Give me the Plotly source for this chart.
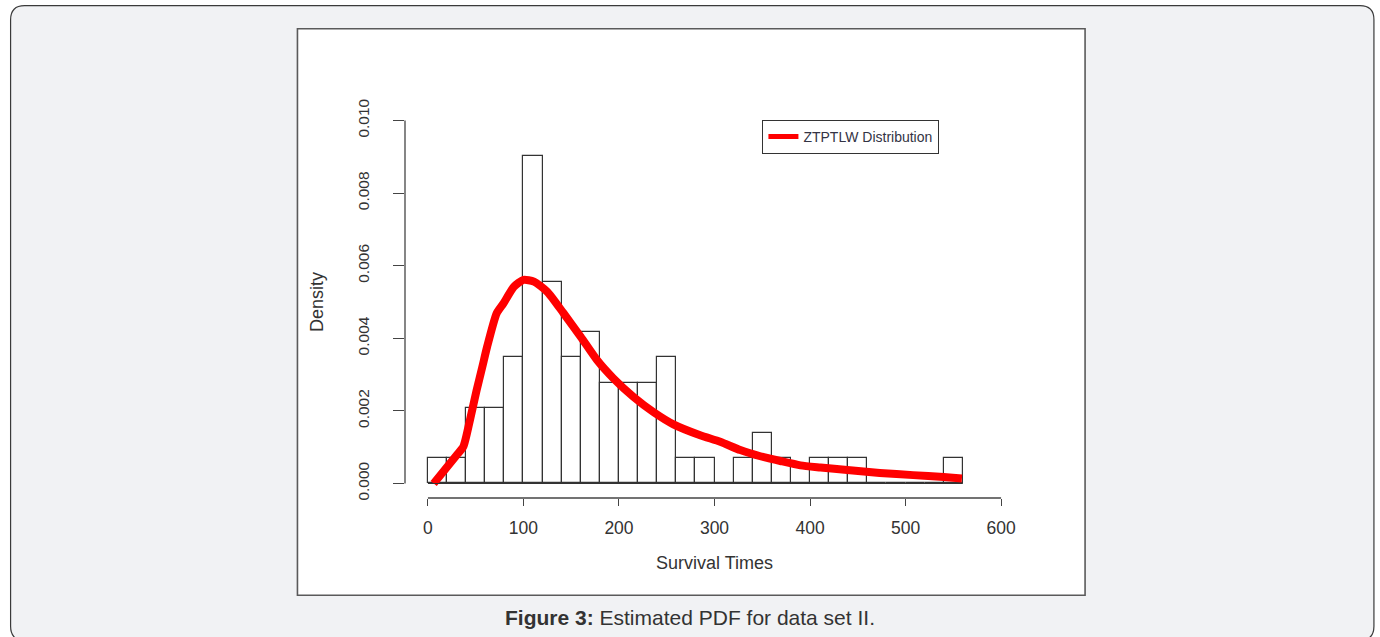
import plotly.graph_objects as go

# ---------------- data ----------------
n_obs = 72
bin_width = 20
bin_left = [0, 20, 40, 60, 80, 100, 120, 140, 160, 180, 200, 220, 240, 260,
            280, 300, 320, 340, 360, 380, 400, 420, 440, 460, 480, 500, 520, 540]
bin_counts = [1, 1, 3, 3, 5, 13, 8, 5, 6, 4, 4, 4, 5, 1,
              1, 0, 1, 2, 1, 0, 1, 1, 1, 0, 0, 0, 0, 1]

curve_x = [6, 30, 37, 44, 51, 57, 62, 72, 79, 90, 100, 111, 125, 142, 160,
           177, 194, 215, 236, 257, 285, 306, 327, 348, 369, 390, 411, 439,
           473, 508, 540, 559]
curve_y = [0.0000, 0.00078, 0.00101, 0.00175, 0.00257, 0.00322, 0.00377,
           0.00469, 0.00496, 0.00542, 0.00561, 0.00556, 0.00528, 0.00469,
           0.00404, 0.00340, 0.00290, 0.00239, 0.00197, 0.00163, 0.00133,
           0.00115, 0.00092, 0.00075, 0.00062, 0.00050, 0.00044, 0.00037,
           0.00029, 0.00023, 0.00018, 0.00014]

x_ticks = [0, 100, 200, 300, 400, 500, 600]
y_ticks = [0.000, 0.002, 0.004, 0.006, 0.008, 0.010]
x_title = "Survival Times"
y_title = "Density"
legend_label = "ZTPTLW Distribution"
caption = "<b>Figure 3:</b> Estimated PDF for data set II."

# ---------------- layout geometry (pixels) ----------------
W_PAGE, H_PAGE = 1380, 637
L, R_ = 404.6, 1023.9       # plot area left/right
T, B = 106.2, 497.8          # plot area top/bottom
PW, PH = R_ - L, B - T


def px(x):
    return (x - L) / PW


def py(y):
    return 1 - (y - T) / PH


density = [c / (n_obs * bin_width) for c in bin_counts]
bin_mid = [b + bin_width / 2 for b in bin_left]

fig = go.Figure()
fig.add_trace(go.Bar(
    x=bin_mid, y=density, width=bin_width,
    marker=dict(color="white", line=dict(color="#333333", width=1.2)),
    showlegend=False, hoverinfo="skip",
))
fig.add_trace(go.Scatter(
    x=curve_x, y=curve_y, mode="lines", name=legend_label,
    line=dict(color="#ff0000", width=8, shape="spline", smoothing=0.6),
))

# outer rounded gray panel
r = 14
x0, x1, y0, y1 = 10, 1374, 6, 640
path = (f"M {px(x0+r)},{py(y0)} L {px(x1-r)},{py(y0)} "
        f"Q {px(x1)},{py(y0)} {px(x1)},{py(y0+r)} "
        f"L {px(x1)},{py(y1-r)} Q {px(x1)},{py(y1)} {px(x1-r)},{py(y1)} "
        f"L {px(x0+r)},{py(y1)} Q {px(x0)},{py(y1)} {px(x0)},{py(y1-r)} "
        f"L {px(x0)},{py(y0+r)} Q {px(x0)},{py(y0)} {px(x0+r)},{py(y0)} Z")
shapes = [
    dict(type="path", path=path, xref="paper", yref="paper", layer="below",
         fillcolor="#f1f2f4", line=dict(color="#3a3a3a", width=1.2)),
    dict(type="rect", xref="paper", yref="paper", layer="below",
         x0=px(297), x1=px(1085), y0=py(595), y1=py(29),
         fillcolor="white", line=dict(color="#5a5a5a", width=1.6)),
    # axis lines spanning first..last tick (R style)
    dict(type="line", xref="x", yref="paper", x0=x_ticks[0], x1=x_ticks[-1],
         y0=0, y1=0, line=dict(color="#444444", width=1.3)),
    dict(type="line", xref="paper", yref="y", x0=0, x1=0,
         y0=y_ticks[0], y1=y_ticks[-1], line=dict(color="#444444", width=1.3)),
    # histogram baseline
    dict(type="line", xref="x", yref="y", x0=bin_left[0],
         x1=bin_left[-1] + bin_width, y0=0, y1=0,
         line=dict(color="#333333", width=1.2)),
]

fig.update_layout(
    width=W_PAGE, height=H_PAGE,
    margin=dict(l=L, r=W_PAGE - R_, t=T, b=H_PAGE - B, pad=0),
    paper_bgcolor="white", plot_bgcolor="rgba(0,0,0,0)",
    bargap=0, shapes=shapes,
    font=dict(family="Liberation Sans, Arial, sans-serif", color="#333333"),
    xaxis=dict(range=[-24, 624], tickvals=x_ticks, ticks="outside", ticklen=7,
               tickwidth=1.3, tickcolor="#444444", showline=False,
               showgrid=False, zeroline=False,
               tickfont=dict(size=17.5, color="#333333"), ticklabelstandoff=7,
               title=dict(text=x_title, font=dict(size=18, color="#333333"),
                          standoff=19)),
    yaxis=dict(range=[-0.0004, 0.0104], tickvals=y_ticks, tickformat=".3f",
               tickangle=-90, ticks="outside", ticklen=11, tickwidth=1.3,
               tickcolor="#444444", showline=False, showgrid=False,
               zeroline=False, tickfont=dict(size=15.5, color="#333333"),
               ticklabelstandoff=18,
               title=dict(text=y_title, font=dict(size=18, color="#333333"),
                          standoff=26)),
    legend=dict(x=px(762), y=py(120), xanchor="left", yanchor="top",
                bgcolor="white", bordercolor="#333333", borderwidth=1.2,
                font=dict(size=14, color="#333344"),
                itemsizing="constant", entrywidth=146, entrywidthmode="pixels",
                tracegroupgap=0),
    annotations=[dict(text=caption, xref="paper", yref="paper",
                      x=px(690), y=py(617), xanchor="center", yanchor="middle",
                      showarrow=False,
                      font=dict(size=21, color="#333333",
                                family="Liberation Sans, Arial, sans-serif"))],
)

fig.write_html("out.html")
